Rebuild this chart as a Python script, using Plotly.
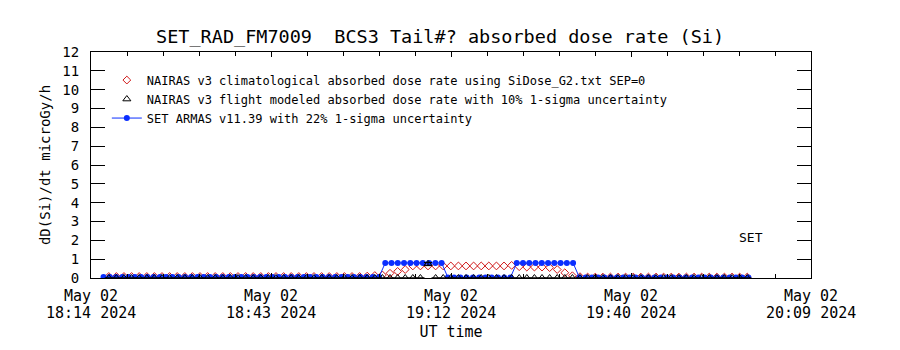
import plotly.graph_objects as go

# ---------------- data ----------------
START_LABEL = "18:14:15"          # x = 0 minutes
X_RANGE = [0, 115]                # minutes after start
tick_minutes = [0, 28.75, 57.5, 86.25, 115]
tick_date = ["May 02"] * 5
tick_time = ["18:14 2024", "18:43 2024", "19:12 2024", "19:40 2024", "20:09 2024"]

# SET ARMAS (1-minute cadence)
armas_minutes = list(range(2, 106))
armas_values = ([0.05] * 45 + [0.8] * 10 + [0.03] * 11 + [0.8] * 10 + [0.03] * 28)

# NAIRAS climatological (73 s cadence)
nairas_t0 = 2.84
nairas_step = 1.214
nairas_clim = ([0.08] * 34 +
               [0.10, 0.13, 0.16, 0.25, 0.35, 0.45, 0.64] +
               [0.64] * 12 +
               [0.67, 0.60, 0.58, 0.58, 0.58, 0.55, 0.45, 0.28, 0.12, 0.07] +
               [0.05] * 22)
nairas_minutes = [nairas_t0 + nairas_step * i for i in range(len(nairas_clim))]

# NAIRAS flight modeled
nairas_flight = [0.0] * len(nairas_clim)
nairas_flight[42] = 0.75

FONT = "DejaVu Sans Mono"
BLUE = "#0a2eff"
RED = "#d01818"

fig = go.Figure()

fig.add_trace(go.Scatter(
    x=nairas_minutes, y=nairas_clim, mode="markers", legendrank=1,
    name="NAIRAS v3 climatological absorbed dose rate using SiDose_G2.txt SEP=0",
    marker=dict(symbol="diamond-open", size=6, color=RED, line=dict(width=1, color=RED)),
))
fig.add_trace(go.Scatter(
    x=armas_minutes, y=armas_values, mode="lines+markers", legendrank=3,
    name="SET ARMAS v11.39 with 22% 1-sigma uncertainty",
    line=dict(color=BLUE, width=1),
    marker=dict(symbol="circle", size=6, color=BLUE),
))
fig.add_trace(go.Scatter(
    x=nairas_minutes, y=nairas_flight, mode="markers", legendrank=2,
    name="NAIRAS v3 flight modeled absorbed dose rate with 10% 1-sigma uncertainty",
    marker=dict(symbol="triangle-up-open", size=7, color="black", line=dict(width=1, color="black")),
    error_y=dict(type="percent", value=10, color="black", thickness=1, width=4),
))

annotations = []
for xv, tt in zip(tick_minutes, tick_time):
    annotations.append(dict(x=xv, xref="x", y=-0.155, yref="paper", text=tt,
                            showarrow=False, xanchor="center", yanchor="middle",
                            font=dict(family=FONT, size=15, color="black")))
annotations.append(dict(x=0.917, xref="paper", y=0.177, yref="paper", text="SET",
                        showarrow=False, xanchor="center", yanchor="middle",
                        font=dict(family=FONT, size=13, color="black")))

fig.update_layout(
    width=900, height=350,
    margin=dict(l=91, r=89, t=52, b=72, autoexpand=False),
    paper_bgcolor="white", plot_bgcolor="white",
    font=dict(family=FONT, color="black"),
    title=dict(text="SET_RAD_FM7009  BCS3 Tail#? absorbed dose rate (Si)",
               x=0.489, xanchor="center", y=1 - 37 / 350, yanchor="middle",
               font=dict(family=FONT, size=18.5, color="black")),
    showlegend=True,
    legend=dict(x=0.022, y=0.94, xanchor="left", yanchor="top",
                bgcolor="rgba(0,0,0,0)", borderwidth=0,
                font=dict(family=FONT, size=12, color="black"),
                itemwidth=30, tracegroupgap=0),
    annotations=annotations,
    xaxis=dict(range=X_RANGE, tickmode="array", tickvals=tick_minutes, ticktext=tick_date,
               ticks="inside", ticklen=5, tickcolor="black", tickwidth=1,
               showline=True, linecolor="black", linewidth=1, mirror="allticks",
               showgrid=False, zeroline=False, automargin=False,
               ticklabelstandoff=4,
               tickfont=dict(family=FONT, size=15, color="black"),
               minor=dict(tick0=0, dtick=5.75, ticks="inside", ticklen=4,
                          tickcolor="black", showgrid=False),
               title=dict(text="UT time", standoff=22,
                          font=dict(family=FONT, size=15, color="black"))),
    yaxis=dict(range=[0, 12], dtick=1, tick0=0,
               ticks="inside", ticklen=14, tickcolor="black", tickwidth=1,
               showline=True, linecolor="black", linewidth=1, mirror="allticks",
               showgrid=False, zeroline=False, automargin=False,
               ticklabelstandoff=8,
               tickfont=dict(family=FONT, size=14, color="black"),
               title=dict(text="dD(Si)/dt microGy/h", standoff=8,
                          font=dict(family=FONT, size=14, color="black"))),
)

fig.write_html("out.html")
